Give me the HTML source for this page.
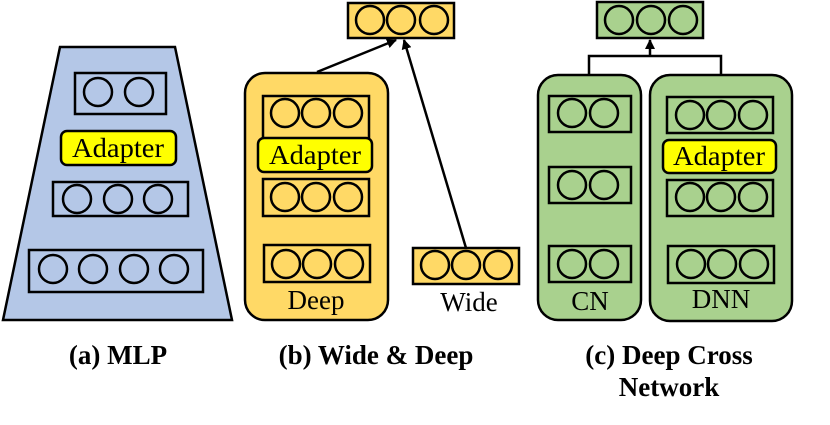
<!DOCTYPE html>
<html><head><meta charset="utf-8"><style>body{margin:0;background:#fff}svg{display:block}text{font-family:"Liberation Serif","Times New Roman",serif}</style></head><body>
<svg width="830" height="425" viewBox="0 0 830 425" xmlns="http://www.w3.org/2000/svg">
<defs><marker id="ar" markerWidth="10" markerHeight="10" refX="9" refY="5" orient="auto" markerUnits="userSpaceOnUse"><path d="M0,0 L10,5 L0,10 z" fill="#000"/></marker></defs>
<g stroke="#000" stroke-width="2.5">
<polygon points="60,47 175,47 232,320 3,320" fill="#b4c7e7"/>
<g fill="none">
<rect x="75" y="73" width="91" height="41"/>
<circle cx="98" cy="92" r="14"/><circle cx="139" cy="92" r="14"/>
<rect x="53" y="182" width="135" height="34"/>
<circle cx="77" cy="199" r="14"/><circle cx="118" cy="199" r="14"/><circle cx="158" cy="199" r="14"/>
<rect x="29" y="250" width="174" height="42"/>
<circle cx="53" cy="269" r="14"/><circle cx="93" cy="269" r="14"/><circle cx="134" cy="269" r="14"/><circle cx="174" cy="269" r="14"/>
</g>
<rect x="61" y="131" width="115" height="34" rx="6" fill="#ffff00"/>
<rect x="245" y="73" width="143" height="247" rx="20" fill="#ffd966"/>
<g fill="none">
<rect x="263" y="96" width="106" height="45"/>
<circle cx="285" cy="113" r="14"/><circle cx="316" cy="113" r="14"/><circle cx="348" cy="113" r="14"/>
<rect x="263" y="179" width="106" height="37"/>
<circle cx="285" cy="197" r="14"/><circle cx="316" cy="197" r="14"/><circle cx="348" cy="197" r="14"/>
<rect x="264" y="245" width="106" height="37"/>
<circle cx="286" cy="264" r="14"/><circle cx="317" cy="264" r="14"/><circle cx="349" cy="264" r="14"/>
</g>
<rect x="258" y="138" width="114" height="34" rx="6" fill="#ffff00"/>
<rect x="348" y="3" width="106" height="35" fill="#ffd966"/>
<circle cx="370" cy="20" r="14" fill="none"/><circle cx="401" cy="20" r="14" fill="none"/><circle cx="434" cy="20" r="14" fill="none"/>
<rect x="413" y="248" width="106" height="36" fill="#ffd966"/>
<circle cx="435" cy="265" r="14" fill="none"/><circle cx="466" cy="265" r="14" fill="none"/><circle cx="498" cy="265" r="14" fill="none"/>
<line x1="317" y1="72" x2="396" y2="40" marker-end="url(#ar)"/>
<line x1="466" y1="248" x2="404" y2="40" marker-end="url(#ar)"/>
<rect x="538" y="75" width="103" height="245" rx="20" fill="#a9d18e"/>
<rect x="650" y="75" width="142" height="246" rx="20" fill="#a9d18e"/>
<g fill="none">
<rect x="549" y="96" width="82" height="36"/>
<circle cx="572" cy="113" r="14"/><circle cx="604" cy="113" r="14"/>
<rect x="549" y="167" width="82" height="36"/>
<circle cx="572" cy="185" r="14"/><circle cx="604" cy="185" r="14"/>
<rect x="549" y="246" width="82" height="36"/>
<circle cx="572" cy="264" r="14"/><circle cx="604" cy="264" r="14"/>
<rect x="667" y="97" width="106" height="36"/>
<circle cx="690" cy="115" r="14"/><circle cx="721" cy="115" r="14"/><circle cx="753" cy="115" r="14"/>
<rect x="667" y="180" width="106" height="36"/>
<circle cx="690" cy="197" r="14"/><circle cx="721" cy="197" r="14"/><circle cx="753" cy="197" r="14"/>
<rect x="668" y="246" width="106" height="37"/>
<circle cx="691" cy="264" r="14"/><circle cx="722" cy="264" r="14"/><circle cx="754" cy="264" r="14"/>
</g>
<rect x="663" y="140" width="113" height="33" rx="6" fill="#ffff00"/>
<rect x="597" y="2" width="106" height="36" fill="#a9d18e"/>
<circle cx="619" cy="20" r="14" fill="none"/><circle cx="651" cy="20" r="14" fill="none"/><circle cx="683" cy="20" r="14" fill="none"/>
<polyline points="589,74 589,56 721,56 721,74" fill="none"/>
<line x1="650" y1="56" x2="650" y2="40" marker-end="url(#ar)"/>
</g>
<g font-size="27" text-anchor="middle" fill="#000">
<text x="118" y="157" textLength="92" lengthAdjust="spacingAndGlyphs">Adapter</text>
<text x="315" y="164" textLength="92" lengthAdjust="spacingAndGlyphs">Adapter</text>
<text x="719" y="165" textLength="92" lengthAdjust="spacingAndGlyphs">Adapter</text>
<text x="316" y="309">Deep</text>
<text x="469" y="311">Wide</text>
<text x="590" y="310">CN</text>
<text x="721" y="308">DNN</text>
</g>
<g font-size="27" font-weight="bold" text-anchor="middle" fill="#000">
<text x="118" y="364">(a) MLP</text>
<text x="376" y="364">(b) Wide &amp; Deep</text>
<text x="669" y="364">(c) Deep Cross</text>
<text x="669" y="396">Network</text>
</g>
</svg>
</body></html>
